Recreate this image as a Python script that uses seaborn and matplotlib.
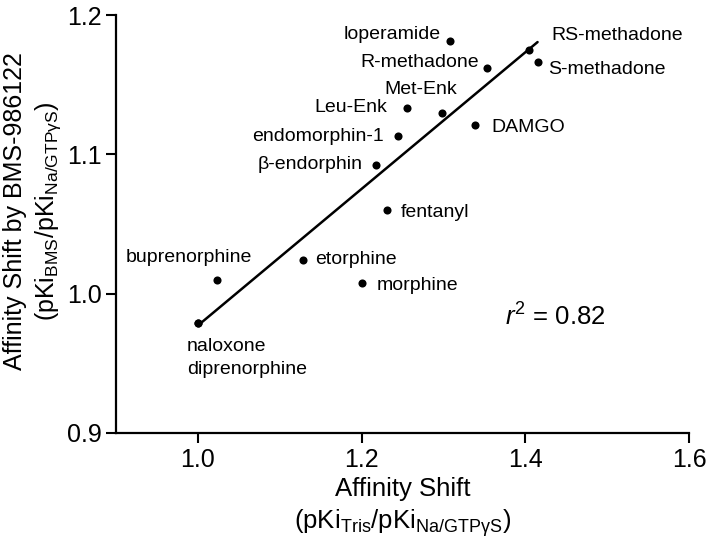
import numpy as np
import pandas as pd
import matplotlib
matplotlib.use("Agg")
import matplotlib.pyplot as plt
import seaborn as sns

# compounds (naloxone and diprenorphine sit on the same spot)
compounds = ["naloxone", "diprenorphine", "buprenorphine", "etorphine", "morphine",
             "fentanyl", "β-endorphin", "endomorphin-1", "Leu-Enk", "Met-Enk",
             "DAMGO", "loperamide", "R-methadone", "RS-methadone", "S-methadone"]
shift_tris = [1.000, 1.000, 1.023, 1.128, 1.201, 1.231, 1.218, 1.245, 1.256, 1.298,
              1.338, 1.308, 1.353, 1.405, 1.415]
shift_bms = [0.979, 0.979, 1.010, 1.024, 1.008, 1.060, 1.092, 1.113, 1.133, 1.130,
             1.121, 1.181, 1.162, 1.175, 1.166]

df = pd.DataFrame({"compound": compounds, "x": shift_tris, "y": shift_bms})

sns.set_style("ticks")
plt.rcParams["font.family"] = ["Liberation Sans", "DejaVu Sans"]
plt.rcParams["mathtext.fontset"] = "custom"
plt.rcParams["mathtext.rm"] = "Liberation Sans"
plt.rcParams["mathtext.it"] = "Liberation Sans:italic"
plt.rcParams["text.color"] = "black"
plt.rcParams["axes.labelcolor"] = "black"

fig = plt.figure(figsize=(7.09, 5.46), dpi=100)
ax = fig.add_axes([0.1636, 0.207, 0.8082, 0.7655])

sns.regplot(data=df, x="x", y="y", ax=ax, ci=None, color="black",
            scatter_kws={"s": 34, "linewidths": 0, "alpha": 1},
            line_kws={"lw": 1.8})

# label offsets in pixels (dx, dy, ha)
label_pos = {
    "naloxone": (-11, -24, "left"),
    "diprenorphine": (-11, -47, "left"),
    "buprenorphine": (-28, 22, "center"),
    "etorphine": (12, 1, "left"),
    "morphine": (14, -3, "left"),
    "fentanyl": (14, -2, "left"),
    "β-endorphin": (-14, 1, "right"),
    "endomorphin-1": (-15, 0, "right"),
    "Leu-Enk": (-20, 1, "right"),
    "Met-Enk": (-21, 23, "center"),
    "DAMGO": (17, -2, "left"),
    "loperamide": (-9, 7, "right"),
    "R-methadone": (-8, 5, "right"),
    "RS-methadone": (22, 14, "left"),
    "S-methadone": (11, -7, "left"),
}
for name, xv, yv in zip(compounds, shift_tris, shift_bms):
    dx, dy, ha = label_pos[name]
    ax.annotate(name, (xv, yv), xytext=(dx, dy), textcoords="offset pixels",
                ha=ha, va="center", fontsize=14)

ax.text(1.375, 0.983, r"$r^2$ = 0.82", fontsize=18.5, ha="left", va="center")

ax.set_xlim(0.9, 1.6)
ax.set_ylim(0.9, 1.2)
ax.set_xticks([1.0, 1.2, 1.4, 1.6])
ax.set_yticks([0.9, 1.0, 1.1, 1.2])
ax.set_xticklabels(["1.0", "1.2", "1.4", "1.6"])
ax.set_yticklabels(["0.9", "1.0", "1.1", "1.2"])
ax.tick_params(labelsize=18, width=1.5, length=7, color="black", labelcolor="black")
for s in ["left", "bottom"]:
    ax.spines[s].set_linewidth(1.6)
    ax.spines[s].set_color("black")
sns.despine(ax=ax)

ax.set_xlabel("Affinity Shift\n(pKi$_{\\mathrm{Tris}}$/pKi$_{\\mathrm{Na/GTPγS}}$)",
              fontsize=18.5, linespacing=1.3)
ax.set_ylabel("Affinity Shift by BMS-986122\n(pKi$_{\\mathrm{BMS}}$/pKi$_{\\mathrm{Na/GTPγS}}$)",
              fontsize=18, linespacing=1.3)
ax.yaxis.set_label_coords(-0.093, 0.53)

fig.savefig("out.png", dpi=100)
